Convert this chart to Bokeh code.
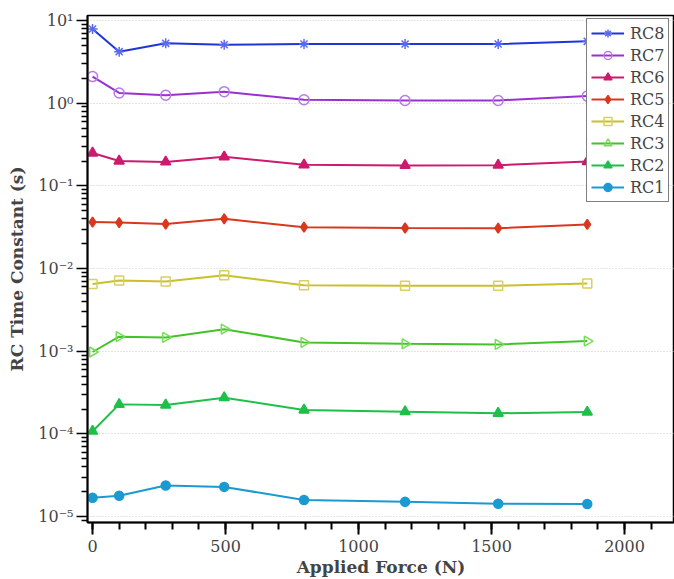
from bokeh.plotting import figure
from bokeh.models import Range1d, FixedTicker, CustomJSTickFormatter, Legend, LegendItem
from bokeh.embed import file_html
from bokeh.resources import INLINE
import math

force = [0, 100, 275, 495, 795, 1175, 1525, 1860]
rc8 = [7.9, 4.2, 5.3, 5.1, 5.2, 5.2, 5.2, 5.6]
rc7 = [2.1, 1.33, 1.25, 1.38, 1.1, 1.08, 1.08, 1.22]
rc6 = [0.25, 0.20, 0.195, 0.225, 0.18, 0.177, 0.178, 0.197]
rc5 = [0.0365, 0.036, 0.0345, 0.040, 0.0317, 0.031, 0.0308, 0.0342]
rc4 = [0.0065, 0.0072, 0.0070, 0.0083, 0.0063, 0.0062, 0.0062, 0.0066]
rc3 = [0.00098, 0.0015, 0.00147, 0.00185, 0.00128, 0.00123, 0.00121, 0.00133]
rc2 = [1.08e-4, 2.28e-4, 2.24e-4, 2.75e-4, 1.95e-4, 1.86e-4, 1.78e-4, 1.84e-4]
rc1 = [1.69e-5, 1.79e-5, 2.38e-5, 2.29e-5, 1.59e-5, 1.51e-5, 1.43e-5, 1.42e-5]

x_ticks = [0, 500, 1000, 1500, 2000]
y_decades = [-5, -4, -3, -2, -1, 0, 1]

series = [
    ("RC8", rc8, "#1f35d8", "#5a6af0", "asterisk", False, 0.0, 10),
    ("RC7", rc7, "#9b30d0", "#b57be8", "circle", True, 0.0, 10),
    ("RC6", rc6, "#cc1a6e", "#cc1a6e", "triangle", False, 0.0, 10),
    ("RC5", rc5, "#d9381e", "#d9381e", "diamond", False, 0.0, 10),
    ("RC4", rc4, "#c9c02a", "#d8d060", "square", True, 0.0, 9),
    ("RC3", rc3, "#44c22a", "#77dd55", "triangle", True, -math.pi / 2, 10),
    ("RC2", rc2, "#1fbf4a", "#1fbf4a", "triangle", False, 0.0, 10),
    ("RC1", rc1, "#1a9ad0", "#1a9ad0", "circle", False, 0.0, 9),
]

p = figure(width=674, height=579, y_axis_type="log",
           x_range=Range1d(-19, 2188), y_range=Range1d(8.5e-6, 11.5),
           output_backend="svg", toolbar_location=None,
           min_border_left=87, min_border_right=0, min_border_top=15, min_border_bottom=56)

p.outline_line_color = "black"
p.outline_line_width = 1.5
p.background_fill_color = "white"
p.xgrid.grid_line_color = None
p.ygrid.grid_line_color = "#c8c8c8"
p.ygrid.grid_line_dash = "1 2"
p.ygrid.grid_line_width = 1

serif = "DejaVu Serif"

# x axis
xa = p.xaxis[0]
xa.ticker = FixedTicker(ticks=x_ticks, minor_ticks=list(range(0, 2200, 100)))
xa.axis_label = "Applied Force (N)"
xa.axis_label_text_font = serif
xa.axis_label_text_font_style = "bold"
xa.axis_label_text_font_size = "17px"
xa.axis_label_standoff = 2
xa.major_label_text_font = serif
xa.major_label_text_font_size = "16px"
xa.major_label_standoff = 5
xa.major_tick_out = 12
xa.major_tick_in = 0
xa.minor_tick_out = 7
xa.minor_tick_in = 0
xa.axis_line_width = 2
xa.major_tick_line_width = 2
xa.minor_tick_line_width = 2

# y axis
ya = p.yaxis[0]
minor = [m * 10.0 ** d for d in range(-6, 2) for m in range(2, 10)]
ya.ticker = FixedTicker(ticks=[10.0 ** d for d in y_decades], minor_ticks=minor)
ya.formatter = CustomJSTickFormatter(code="""
const sup = {'-':'\u207b','0':'\u2070','1':'\u00b9','2':'\u00b2','3':'\u00b3','4':'\u2074','5':'\u2075','6':'\u2076','7':'\u2077','8':'\u2078','9':'\u2079'};
const e = String(Math.round(Math.log10(tick)));
let s = '';
for (const c of e) { s += sup[c]; }
return '10' + s;
""")
ya.axis_label = "RC Time Constant (s)"
ya.axis_label_text_font = serif
ya.axis_label_text_font_style = "bold"
ya.axis_label_text_font_size = "17px"
ya.axis_label_standoff = 8
ya.major_label_text_font = serif
ya.major_label_text_font_size = "16px"
ya.major_label_standoff = 3
ya.major_tick_out = 11
ya.major_tick_in = 0
ya.minor_tick_out = 6
ya.minor_tick_in = 0
ya.axis_line_width = 2
ya.major_tick_line_width = 1.5
ya.minor_tick_line_width = 1.5

items = []
for name, vals, lc, mc, marker, hollow, ang, size in series:
    r1 = p.line(force, vals, line_color=lc, line_width=2)
    r2 = p.scatter(force, vals, marker=marker, size=size, angle=ang,
                   line_color=mc, line_width=1.5,
                   fill_color=None if hollow else mc)
    items.append(LegendItem(label=name, renderers=[r1, r2]))

legend = Legend(items=items, location=(499, 320))
legend.label_text_font = serif
legend.label_text_font_size = "16px"
legend.label_standoff = 6
legend.glyph_width = 33
legend.glyph_height = 20
legend.label_height = 20
legend.spacing = 2
legend.padding = 4
legend.margin = 0
legend.border_line_color = "black"
legend.border_line_width = 1.5
legend.background_fill_alpha = 1.0
p.add_layout(legend)

open("out.html", "w").write(file_html(p, INLINE))
